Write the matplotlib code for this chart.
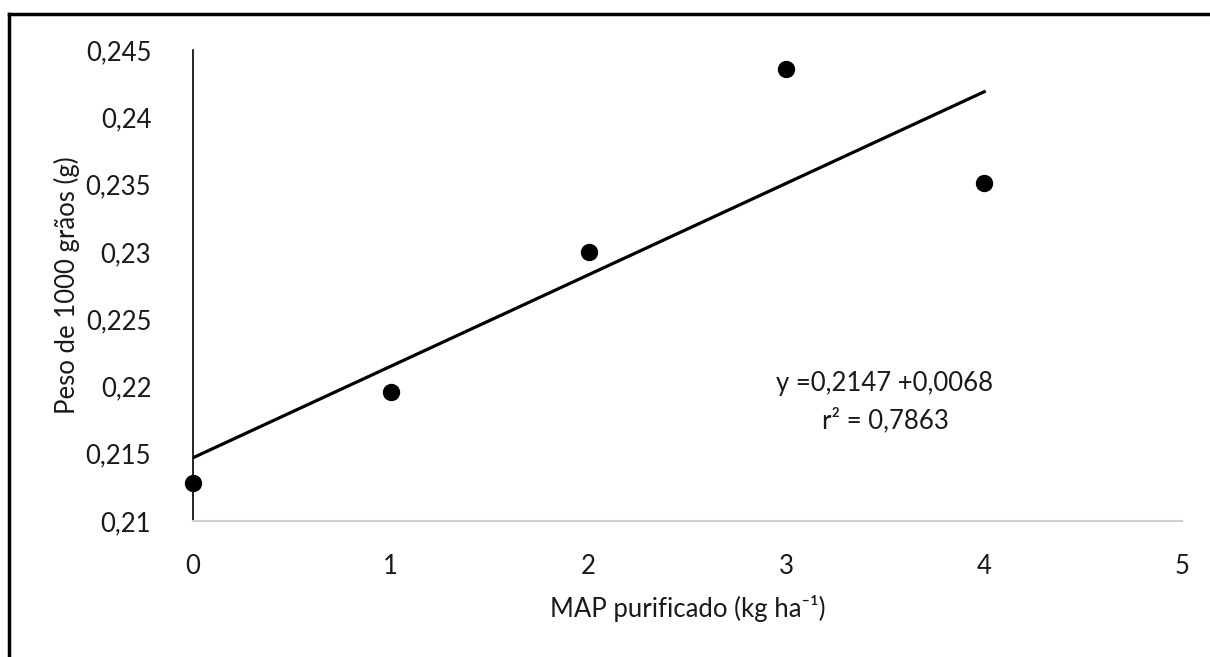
import matplotlib.pyplot as plt
import numpy as np
from matplotlib.ticker import FuncFormatter, MultipleLocator
from matplotlib.lines import Line2D

plt.rcParams['font.family'] = ['Lato', 'DejaVu Sans']

# data
dose = [0, 1, 2, 3, 4]
peso = [0.2128, 0.2196, 0.2300, 0.2436, 0.2351]
intercept = 0.2147
slope = 0.0068
eq_text = "y =0,2147 +0,0068"
r2_text = "r² = 0,7863"

fig = plt.figure(figsize=(12.1, 6.57), dpi=100)
ax = fig.add_axes([0.1595, 0.2070, 0.8174, 0.7169])

xfit = np.array([dose[0], dose[-1]])
ax.plot(xfit, intercept + slope * xfit, color='black', lw=2.3, zorder=2)
ax.plot(dose, peso, 'o', color='black', ms=11.5, zorder=3, clip_on=False)

ax.set_xlim(0, 5)
ax.set_ylim(0.21, 0.245)
ax.xaxis.set_major_locator(MultipleLocator(1))
ax.yaxis.set_major_locator(MultipleLocator(0.005))
comma = FuncFormatter(lambda v, p: f"{round(v, 4):g}".replace('.', ','))
ax.yaxis.set_major_formatter(comma)
ax.tick_params(length=0, labelsize=18.5, colors='#1a1a1a')
ax.tick_params(axis='y', pad=30)
ax.tick_params(axis='x', pad=24)

for s in ['top', 'right']:
    ax.spines[s].set_visible(False)
ax.spines['left'].set_color('black')
ax.spines['left'].set_linewidth(1.2)
ax.spines['bottom'].set_color('#d0d0d0')
ax.spines['bottom'].set_linewidth(1.5)

ax.set_xlabel("MAP purificado (kg ha⁻¹)", fontsize=18.5, color='#1a1a1a', labelpad=11)
ax.set_ylabel("Peso de 1000 grãos (g)", fontsize=18.5, color='#1a1a1a', labelpad=4)

fig.text(885 / 1210, 1 - 383 / 657, eq_text, fontsize=18.5, ha='center', va='center', color='#1a1a1a')
fig.text(885 / 1210, 1 - 420 / 657, r2_text, fontsize=18.5, ha='center', va='center', color='#1a1a1a')

# outer frame (top and left edges visible)
fig.add_artist(Line2D([9 / 1210, 1], [1 - 14 / 657, 1 - 14 / 657], transform=fig.transFigure, color='black', lw=2.5))
fig.add_artist(Line2D([9 / 1210, 9 / 1210], [0, 1 - 14 / 657], transform=fig.transFigure, color='black', lw=2.5))

fig.savefig("out.png", dpi=100)
